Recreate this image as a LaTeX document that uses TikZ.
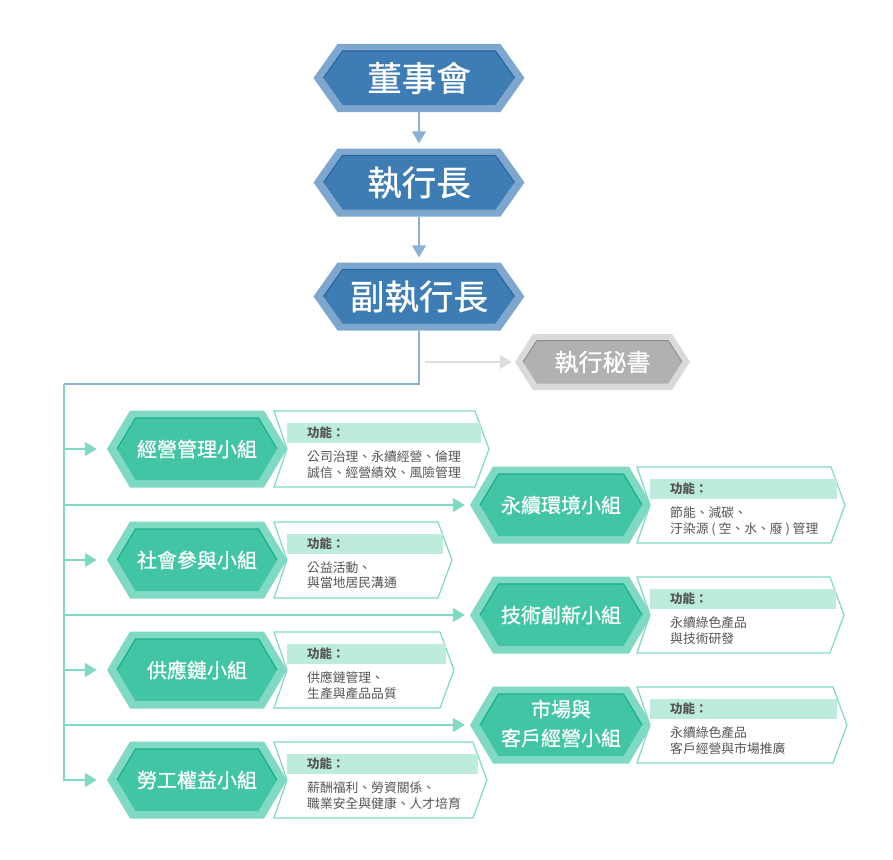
\documentclass[tikz,border=0pt]{standalone}
\usepackage{fontspec}
\setmainfont{Noto Sans CJK TC}
\newfontfamily\cjk{Noto Sans CJK TC}
\newfontfamily\cjkm[FakeBold=0.8]{Noto Sans CJK TC}
\usetikzlibrary{arrows.meta}
\definecolor{blueOuter}{HTML}{7DA7CE}
\definecolor{blueInner}{HTML}{3E7DB4}
\definecolor{blueEdge}{HTML}{2A67A0}
\definecolor{blueLine}{HTML}{8BB1D6}
\definecolor{greenOuter}{HTML}{80D9C3}
\definecolor{greenInner}{HTML}{42C5A5}
\definecolor{greenEdge}{HTML}{16B08A}
\definecolor{greenLine}{HTML}{80D9C3}
\definecolor{bandCol}{HTML}{BDEBDE}
\definecolor{grayOuter}{HTML}{DADADA}
\definecolor{grayInner}{HTML}{B1B1B1}
\definecolor{grayEdge}{HTML}{8F8F8F}
\definecolor{grayLine}{HTML}{DDDDDD}
\definecolor{txtGray}{HTML}{555555}
\tikzset{
  blue outer/.style={fill=blueOuter},
  blue inner/.style={fill=blueInner},
  blue edge/.style={draw=blueEdge,line width=1.2pt},
  green outer/.style={fill=greenOuter},
  green inner/.style={fill=greenInner},
  green edge/.style={draw=greenEdge,line width=1.2pt},
  gray outer/.style={fill=grayOuter},
  gray inner/.style={fill=grayInner},
  gray edge/.style={draw=grayEdge,line width=1pt},
  toptext/.style={text=white,font=\cjkm\fontsize{34.5}{38}\selectfont,inner sep=0pt},
  grptext/.style={text=white,font=\cjkm\fontsize{20}{29}\selectfont,inner sep=0pt,align=center},
  sectext/.style={text=white,font=\cjkm\fontsize{24}{28}\selectfont,inner sep=0pt},
  funchead/.style={text=txtGray,font=\cjk\bfseries\fontsize{12.5}{15}\selectfont,inner sep=0pt,anchor=west},
  functext/.style={text=txtGray,font=\cjk\fontsize{12.8}{15.5}\selectfont,inner sep=0pt,anchor=north west,align=left},
  bluearrow/.style={draw=blueLine,line width=1.6pt,-{Triangle[length=12pt,width=14pt]}},
  blueline/.style={draw=blueLine,line width=1.6pt},
  greenarrow/.style={draw=greenLine,line width=1.6pt,-{Triangle[length=12pt,width=14pt]}},
  greenline/.style={draw=greenLine,line width=1.6pt},
  grayarrow/.style={draw=grayLine,line width=1.6pt,-{Triangle[length=12pt,width=14pt]}},
  fbox/.style={draw=greenOuter,fill=white,line width=1.2pt,line join=miter},
}
% #1 cx, #2 cy, #3 half width, #4 half height, #5 slant, #6 inset x, #7 inset y, #8 scheme
\newcommand{\TwoHex}[8]{%
  \fill[#8 outer] ({#1-#3},{#2}) -- ({#1-#3+#5},{#2-#4}) -- ({#1+#3-#5},{#2-#4}) -- ({#1+#3},{#2})
     -- ({#1+#3-#5},{#2+#4}) -- ({#1-#3+#5},{#2+#4}) -- cycle;
  \fill[#8 inner] ({#1-#3+#6},{#2}) -- ({#1-#3+#6+#5*(#4-#7)/#4},{#2-#4+#7}) -- ({#1+#3-#6-#5*(#4-#7)/#4},{#2-#4+#7}) -- ({#1+#3-#6},{#2})
     -- ({#1+#3-#6-#5*(#4-#7)/#4},{#2+#4-#7}) -- ({#1-#3+#6+#5*(#4-#7)/#4},{#2+#4-#7}) -- cycle;
  \draw[#8 edge] ({#1-#3+#6},{#2}) -- ({#1-#3+#6+#5*(#4-#7)/#4},{#2-#4+#7}) -- ({#1+#3-#6-#5*(#4-#7)/#4},{#2-#4+#7}) -- ({#1+#3-#6},{#2});
}
% #1 L, #2 R, #3 cy, #4 band right, #5 name
\newcommand{\FuncBox}[5]{%
  \draw[fbox] ({#1},{#3-38}) -- ({#2-14},{#3-38}) -- ({#2},{#3}) -- ({#2-14},{#3+38}) -- ({#1},{#3+38}) -- ({#1+13},{#3}) -- cycle;
  \fill[bandCol] ({#1+13},{#3-26}) rectangle ({#4},{#3-6});
  \node[funchead] (#5h) at ({#1+33},{#3-16}) {功能：};
}
\begin{document}
\begin{tikzpicture}[x=1pt,y=-1pt]
\useasboundingbox (0,0) rectangle (893,859);
% top chain
\TwoHex{419}{78}{105.5}{34}{24}{10}{7}{blue}
\node[toptext,minimum width=211pt,minimum height=68pt] (board) at (419,78) {董事會};
\TwoHex{419}{182.5}{105.5}{34}{24}{10}{7}{blue}
\node[toptext,minimum width=211pt,minimum height=68pt] (ceo) at (419,182.5) {執行長};
\TwoHex{419}{296.5}{105.5}{34}{24}{10}{7}{blue}
\node[toptext,minimum width=211pt,minimum height=68pt] (vp) at (419,296.5) {副執行長};
\TwoHex{602.5}{362}{87.5}{28}{18}{8}{6.5}{gray}
\node[sectext,minimum width=175pt,minimum height=56pt] (sec) at (602.5,362) {執行秘書};
\draw[bluearrow] (board.south) -- ([yshift=5pt]ceo.north);
\draw[bluearrow] (ceo.south) -- ([yshift=5pt]vp.north);
\coordinate (secstart) at (425,362);
\draw[grayarrow] (secstart) -- ([xshift=-3pt]sec.west);
\coordinate (trunktop) at (64,384);
\draw[blueline] (vp.south) |- (trunktop);
% left groups
\TwoHex{197}{449}{90}{38.5}{23}{10}{7.5}{green}
\node[grptext,minimum width=180pt,minimum height=77pt] (g1) at (197,449) {經營管理小組};
\TwoHex{197}{560}{90}{38.5}{23}{10}{7.5}{green}
\node[grptext,minimum width=180pt,minimum height=77pt] (g2) at (197,560) {社會參與小組};
\TwoHex{197}{670}{90}{38.5}{23}{10}{7.5}{green}
\node[grptext,minimum width=180pt,minimum height=77pt] (g3) at (197,670) {供應鏈小組};
\TwoHex{197}{780}{90}{38.5}{23}{10}{7.5}{green}
\node[grptext,minimum width=180pt,minimum height=77pt] (g4) at (197,780) {勞工權益小組};
% right groups
\TwoHex{561}{505}{91}{38.5}{23}{10}{7.5}{green}
\node[grptext,minimum width=182pt,minimum height=77pt] (g5) at (561,505) {永續環境小組};
\TwoHex{561}{615}{91}{38.5}{23}{10}{7.5}{green}
\node[grptext,minimum width=182pt,minimum height=77pt] (g6) at (561,615) {技術創新小組};
\TwoHex{561}{725}{91}{38.5}{23}{10}{7.5}{green}
\node[grptext,minimum width=182pt,minimum height=77pt] (g7) at (561,723.5) {市場與\\客戶經營小組};
% function boxes
\FuncBox{274}{489}{449}{481}{f1}
\node[functext] (f1b) at (307,450.5) {公司治理、永續經營、倫理\\誠信、經營績效、風險管理};
\FuncBox{274}{452}{560}{443}{f2}
\node[functext] (f2b) at (307,561.5) {公益活動、\\與當地居民溝通};
\FuncBox{274}{454}{670}{446}{f3}
\node[functext] (f3b) at (307,671.5) {供應鏈管理、\\生產與產品品質};
\FuncBox{274}{487}{780}{478}{f4}
\node[functext] (f4b) at (307,781.5) {薪酬福利、勞資關係、\\職業安全與健康、人才培育};
\FuncBox{637}{845}{505}{837}{f5}
\node[functext] (f5b) at (670,506.5) {節能、減碳、\\汙染源 ( 空、水、廢 ) 管理};
\FuncBox{637}{844}{615}{836}{f6}
\node[functext] (f6b) at (670,616.5) {永續綠色產品\\與技術研發};
\FuncBox{637}{847}{725}{837}{f7}
\node[functext] (f7b) at (670,726.5) {永續綠色產品\\客戶經營與市場推廣};
% connectors
\coordinate (b1) at (64,449);
\coordinate (b2) at (64,560);
\coordinate (b3) at (64,670);
\coordinate (b5) at (64,505);
\coordinate (b6) at (64,615);
\coordinate (b7) at (64,725);
\draw[greenarrow] (trunktop) |- ([xshift=-10pt]g4.west);
\draw[greenarrow] (b1) -- ([xshift=-10pt]g1.west);
\draw[greenarrow] (b2) -- ([xshift=-10pt]g2.west);
\draw[greenarrow] (b3) -- ([xshift=-10pt]g3.west);
\draw[greenarrow] (b5) -- ([xshift=-5pt]g5.west);
\draw[greenarrow] (b6) -- ([xshift=-5pt]g6.west);
\draw[greenarrow] (b7) -- ([xshift=-5pt]g7.west |- b7);
\end{tikzpicture}
\end{document}
